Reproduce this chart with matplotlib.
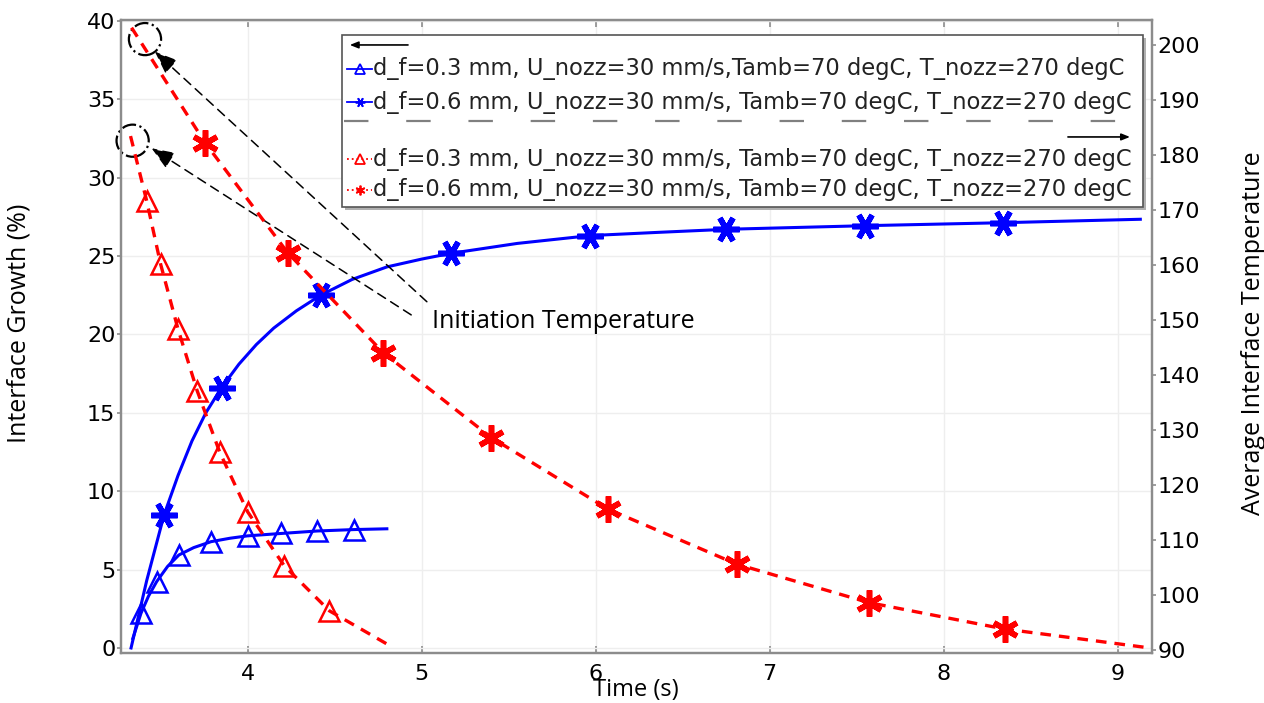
import matplotlib
matplotlib.use("Agg")
import matplotlib.pyplot as plt
import matplotlib.transforms as mtransforms
from matplotlib.patches import Ellipse, Rectangle
from matplotlib.lines import Line2D

# interface growth (%) vs time (s), left axis
t_grow_03 = [3.34, 3.387, 3.43, 3.477, 3.54, 3.605, 3.69, 3.79, 3.90, 4.0,
             4.19, 4.40, 4.61, 4.80]
g_grow_03 = [0.6, 2.21, 3.3, 4.23, 5.2, 5.93, 6.4, 6.78, 7.0, 7.15,
             7.3, 7.46, 7.55, 7.6]
t_grow_03_mk = [3.387, 3.477, 3.605, 3.79, 4.0, 4.19, 4.40, 4.61]
g_grow_03_mk = [2.21, 4.23, 5.93, 6.78, 7.15, 7.3, 7.46, 7.55]

t_grow_06 = [3.33, 3.42, 3.52, 3.60, 3.68, 3.76, 3.85, 3.95, 4.05, 4.15, 4.28,
             4.42, 4.60, 4.80, 5.00, 5.17, 5.55, 5.97, 6.35, 6.75, 7.55, 8.34,
             9.13]
g_grow_06 = [0.0, 4.3, 8.5, 11.0, 13.2, 15.0, 16.6, 18.1, 19.35, 20.4, 21.5,
             22.5, 23.5, 24.3, 24.8, 25.17, 25.8, 26.3, 26.5, 26.7, 26.93, 27.12,
             27.34]
t_grow_06_mk = [3.52, 3.85, 4.42, 5.17, 5.97, 6.75, 7.55, 8.34]
g_grow_06_mk = [8.5, 16.6, 22.5, 25.17, 26.3, 26.7, 26.93, 27.12]

# average interface temperature (degC), right axis
t_temp_03 = [3.327, 3.42, 3.50, 3.60, 3.71, 3.84, 4.0, 4.21, 4.47, 4.81]
T_temp_03 = [183.4, 171.6, 160.1, 148.3, 137.1, 125.9, 115.1, 105.3, 97.1, 90.9]
t_temp_03_mk = [3.42, 3.50, 3.60, 3.71, 3.84, 4.0, 4.21, 4.47]
T_temp_03_mk = [171.6, 160.1, 148.3, 137.1, 125.9, 115.1, 105.3, 97.1]

t_temp_06 = [3.333, 3.755, 4.23, 4.78, 5.40, 6.07, 6.81, 7.57, 8.35, 9.15]
T_temp_06 = [203.1, 182.2, 162.2, 144.0, 128.6, 115.6, 105.6, 98.6, 93.8, 90.5]
t_temp_06_mk = [3.755, 4.23, 4.78, 5.40, 6.07, 6.81, 7.57, 8.35]
T_temp_06_mk = [182.2, 162.2, 144.0, 128.6, 115.6, 105.6, 98.6, 93.8]

labels = [
    "d_f=0.3 mm, U_nozz=30 mm/s,Tamb=70 degC, T_nozz=270 degC",
    "d_f=0.6 mm, U_nozz=30 mm/s, Tamb=70 degC, T_nozz=270 degC",
    "d_f=0.3 mm, U_nozz=30 mm/s, Tamb=70 degC, T_nozz=270 degC",
    "d_f=0.6 mm, U_nozz=30 mm/s, Tamb=70 degC, T_nozz=270 degC",
]

# initiation temperature markers (left axis coords)
circ_x = [3.41, 3.339]
circ_y = [38.83, 32.35]
arrow_tip = [(3.467, 38.03), (3.448, 31.87)]
arrow_tail = [(5.03, 22.08), (4.94, 21.24)]

blue = "#0000ff"
red = "#ff0000"
spine_col = "#8c8c8c"
red_dash = (0, (3.2, 2.4))
asterisk_h = (6, 2, 90)
asterisk_v = (6, 2, 0)

fig = plt.figure(figsize=(12.64, 7.03), dpi=100)
ax = fig.add_axes([0.0957, 0.0716, 0.8154, 0.9000])
ax2 = ax.twinx()

ax.plot(t_grow_03, g_grow_03, color=blue, lw=2.2)
ax.plot(t_grow_03_mk, g_grow_03_mk, ls="none", marker="^", ms=15, mfc="none",
        mec=blue, mew=1.8)
ax.plot(t_grow_06, g_grow_06, color=blue, lw=2.2)
ax.plot(t_grow_06_mk, g_grow_06_mk, ls="none", marker=asterisk_h, ms=19,
        mec=blue, mew=4)

ax2.plot(t_temp_03, T_temp_03, color=red, lw=2.4, ls=red_dash)
ax2.plot(t_temp_03_mk, T_temp_03_mk, ls="none", marker="^", ms=15, mfc="none",
         mec=red, mew=1.8)
ax2.plot(t_temp_06, T_temp_06, color=red, lw=2.4, ls=red_dash)
ax2.plot(t_temp_06_mk, T_temp_06_mk, ls="none", marker=asterisk_v, ms=19,
         mec=red, mew=4)

ax.set_xlim(3.272, 9.195)
ax.set_ylim(-0.3, 40.05)
ax2.set_ylim(89.5, 204.5)
ax.set_xticks(range(4, 10))
ax.set_yticks(range(0, 41, 5))
ax2.set_yticks(range(90, 201, 10))

ax.grid(True, color="#eeeeee", lw=1)
ax.set_axisbelow(True)
for a in (ax, ax2):
    for s in a.spines.values():
        s.set_color(spine_col)
        s.set_linewidth(1.6)
ax.tick_params(axis="x", direction="in", length=5, width=1.2, color=spine_col,
               labelsize=16, pad=8, top=True)
ax.tick_params(axis="y", direction="out", length=3, width=1.2, color=spine_col,
               labelsize=16, pad=1)
ax2.tick_params(axis="y", direction="out", length=3, width=1.2, color=spine_col,
                labelsize=16, pad=1)

ax.set_xlabel("Time (s)", fontsize=17, family="Open Sans")
ax.xaxis.set_label_coords(0.5, -0.04)
ax.set_ylabel("Interface Growth (%)", fontsize=18, family="Open Sans")
ax.yaxis.set_label_coords(-0.0864, 0.52)
ax2.set_ylabel("Average Interface Temperature", fontsize=18, family="Open Sans")
ax2.yaxis.set_label_coords(1.0866, 0.505)

# circles and arrows pointing at the initiation temperature
for cx, cy in zip(circ_x, circ_y):
    ax.add_patch(Ellipse((cx, cy), 0.185, 2.05, fill=False, ec="k", lw=1.6,
                         ls="-.", clip_on=False, zorder=5))
for tip, tail in zip(arrow_tip, arrow_tail):
    ax.annotate("", xy=tip, xytext=tail,
                arrowprops=dict(arrowstyle="-|>,head_length=1.4,head_width=0.55",
                                color="k", lw=1.1, ls=(0, (6, 4)),
                                shrinkA=0, shrinkB=0))
ax.text(5.06, 20.8, "Initiation Temperature", fontsize=18, family="Open Sans",
        va="center", ha="left")

# legend box (drawn by hand to get the arrows and separator rows)
tr = ax2.transAxes
lx0, lx1, ly0, ly1 = 0.2144, 0.9916, 0.7045, 0.9763
shadow_tr = mtransforms.offset_copy(tr, fig=fig, x=2.5, y=-2.5, units="points")
ax2.add_patch(Rectangle((lx0, ly0), lx1 - lx0, ly1 - ly0, transform=shadow_tr,
                        fc="#b0b0b0", ec="none", zorder=8))
ax2.add_patch(Rectangle((lx0, ly0), lx1 - lx0, ly1 - ly0, transform=tr,
                        fc="white", ec="#555555", lw=1.2, zorder=9))
ax2.annotate("", xy=(0.222, 0.9605), xytext=(0.2785, 0.9605), xycoords=tr,
             textcoords=tr, zorder=10,
             arrowprops=dict(arrowstyle="-|>,head_length=0.5,head_width=0.2",
                             color="k", lw=1.2, shrinkA=0, shrinkB=0))
ax2.annotate("", xy=(0.979, 0.8151), xytext=(0.9188, 0.8151), xycoords=tr,
             textcoords=tr, zorder=10,
             arrowprops=dict(arrowstyle="-|>,head_length=0.5,head_width=0.2",
                             color="k", lw=1.2, shrinkA=0, shrinkB=0))
ax2.add_line(Line2D([0.2164, 0.9887], [0.8404, 0.8404], transform=tr,
                    color="#808080", lw=1.6, ls=(0, (11, 17)), zorder=10))

rows_y = [0.9225, 0.8700, 0.7800, 0.7320]
styles = [
    dict(color=blue, ls="-", marker="^", mfc="none"),
    dict(color=blue, ls="-", marker=asterisk_h),
    dict(color=red, ls=":", marker="^", mfc="none"),
    dict(color=red, ls=":", marker=asterisk_v),
]
for y, lab, st in zip(rows_y, labels, styles):
    ax2.add_line(Line2D([0.2195, 0.2435], [y, y], transform=tr, lw=1.3,
                        color=st["color"], ls=st["ls"], zorder=10))
    ax2.add_line(Line2D([0.2315], [y], transform=tr, ls="none", marker=st["marker"],
                        ms=7, mfc=st.get("mfc", st["color"]), mec=st["color"],
                        mew=1.3, zorder=10))
    ax2.text(0.2445, y, lab, transform=tr, fontsize=16.3, va="center", ha="left",
             color="#222222", zorder=11)

fig.savefig("out.png", dpi=100)
